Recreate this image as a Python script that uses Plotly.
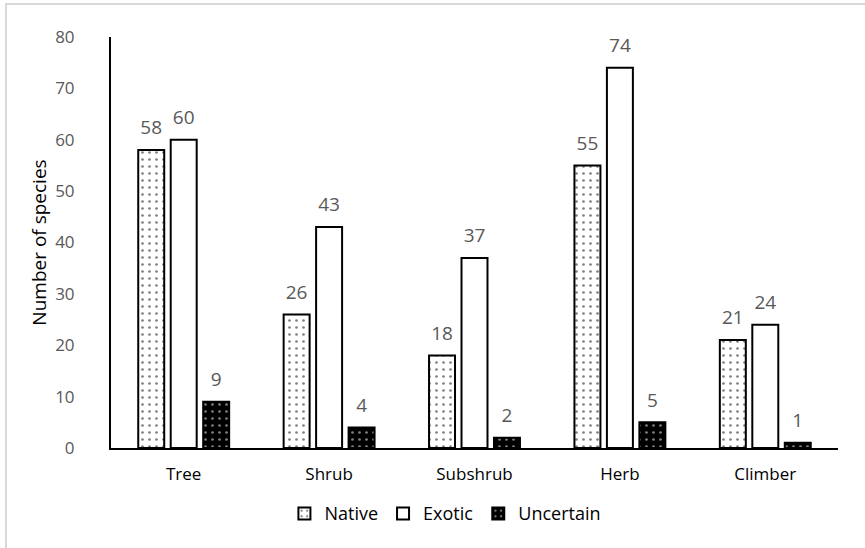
import plotly.graph_objects as go

categories = ["Tree", "Shrub", "Subshrub", "Herb", "Climber"]
native = [58, 26, 18, 55, 21]
exotic = [60, 43, 37, 74, 24]
uncertain = [9, 4, 2, 5, 1]
y_ticks = [0, 10, 20, 30, 40, 50, 60, 70, 80]

FONT = "Open Sans, Liberation Sans, sans-serif"
LABEL_GREY = "#595959"
GAP = 0.33

series = [
    ("Native", native, "white", "black", ".", 0.12),
    ("Exotic", exotic, "white", "black", "", 0.0),
    ("Uncertain", uncertain, "black", "white", ".", 0.12),
]

fig = go.Figure()
for name, values, bg, fg, shape, solidity in series:
    fig.add_trace(go.Bar(
        name=name, x=categories, y=values, offsetgroup=name,
        marker=dict(
            color=bg,
            line=dict(color="black", width=2),
            pattern=dict(shape=shape, bgcolor=bg, fgcolor=fg,
                         size=7, solidity=solidity, fillmode="overlay"),
        ),
    ))
    # value labels, grouped the same way as the bars
    fig.add_trace(go.Scatter(
        x=categories, y=values, offsetgroup=name, mode="markers+text",
        text=[str(v) for v in values], textposition="top center",
        textfont=dict(family=FONT, size=19, color=LABEL_GREY),
        marker=dict(size=16, opacity=0), showlegend=False,
        hoverinfo="skip", cliponaxis=False,
    ))

fig.update_layout(
    width=865, height=548,
    margin=dict(l=111, r=27, t=37, b=100),
    paper_bgcolor="white", plot_bgcolor="white",
    barmode="group", bargap=GAP, bargroupgap=0.2,
    scattermode="group", scattergap=GAP,
    font=dict(family=FONT, size=17, color=LABEL_GREY),
    showlegend=True,
    legend=dict(orientation="h", x=0.46, xanchor="center", y=-0.115, yanchor="top",
                font=dict(family=FONT, size=18, color="black"),
                itemwidth=30, tracegroupgap=0),
    xaxis=dict(showline=True, linecolor="black", linewidth=2, ticks="",
               tickfont=dict(family=FONT, size=17, color="black"),
               ticklabelstandoff=10, showgrid=False),
    yaxis=dict(range=[0, 80], tickvals=y_ticks, showline=True, linecolor="black",
               linewidth=2, ticks="", showgrid=False, zeroline=False,
               ticklabelstandoff=31,
               tickfont=dict(family=FONT, size=17, color=LABEL_GREY),
               title=dict(text="Number of species",
                          font=dict(family=FONT, size=19, color="black"),
                          standoff=3)),
    shapes=[dict(type="rect", xref="paper", yref="paper",
                 x0=-0.1445, x1=1.05, y0=-0.28, y1=1.08,
                 line=dict(color="#d9d9d9", width=2), layer="below")],
)

fig.write_html("out.html")
